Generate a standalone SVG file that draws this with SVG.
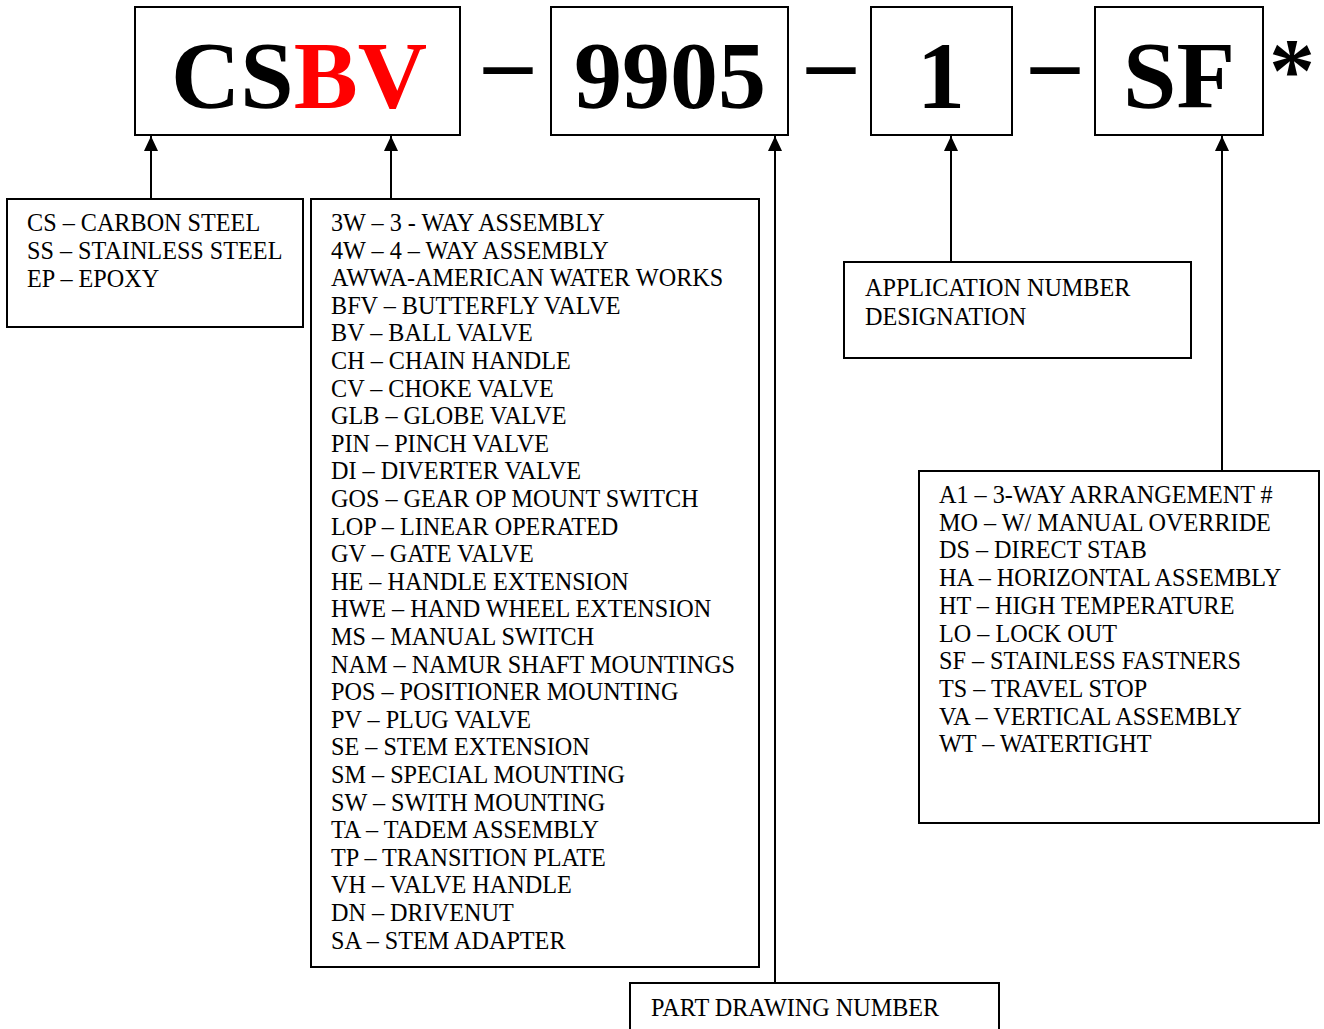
<svg xmlns="http://www.w3.org/2000/svg" width="1324" height="1029" viewBox="0 0 1324 1029">
<defs>
<style>
.box{fill:#fff;stroke:#000;stroke-width:2}
.big{font-family:"Liberation Serif","Times New Roman",serif;font-weight:bold;font-size:96px;fill:#000}
.t{font-family:"Liberation Serif","Times New Roman",serif;font-size:24.2px;fill:#000}
.ln{stroke:#000;stroke-width:2;fill:none}
</style>
<marker id="ah" viewBox="0 0 15 14" refX="15" refY="7" markerWidth="15" markerHeight="14" markerUnits="userSpaceOnUse" orient="auto">
<path d="M0,0 L15,7 L0,14 Z" fill="#000"/>
</marker>
</defs>
<rect width="1324" height="1029" fill="#fff"/>

<g id="code-csbv">
<rect class="box" x="135" y="7" width="325" height="128"/>
<text class="big" x="171" y="108">CS<tspan fill="#ff0000">BV</tspan></text>
</g>
<text class="big" x="484" y="93">–</text>
<g id="code-9905">
<rect class="box" x="551" y="7" width="237" height="128"/>
<text class="big" x="574" y="108">9905</text>
</g>
<text class="big" x="807" y="93">–</text>
<g id="code-1">
<rect class="box" x="871" y="7" width="141" height="128"/>
<text class="big" x="917" y="108">1</text>
</g>
<text class="big" x="1031" y="93">–</text>
<g id="code-sf">
<rect class="box" x="1095" y="7" width="168" height="128"/>
<text class="big" x="1123" y="108">SF</text>
</g>
<text class="big" x="1269" y="101" style="font-size:92px">*</text>

<g id="connectors">
<path class="ln" d="M151,199 V136" marker-end="url(#ah)"/>
<path class="ln" d="M391,199 V136" marker-end="url(#ah)"/>
<path class="ln" d="M775,983 V136" marker-end="url(#ah)"/>
<path class="ln" d="M951,262 V136" marker-end="url(#ah)"/>
<path class="ln" d="M1222,471 V136" marker-end="url(#ah)"/>
</g>

<g id="material">
<rect class="box" x="7" y="199" width="296" height="128"/>
<text class="t" x="27" y="231">CS – CARBON STEEL</text>
<text class="t" x="27" y="259">SS – STAINLESS STEEL</text>
<text class="t" x="27" y="287">EP – EPOXY</text>
</g>

<g id="valve-types">
<rect class="box" x="311" y="199" width="448" height="768"/>
<text class="t" x="331" y="231">3W – 3 - WAY ASSEMBLY</text>
<text class="t" x="331" y="258.6">4W – 4 – WAY ASSEMBLY</text>
<text class="t" x="331" y="286.2">AWWA-AMERICAN WATER WORKS</text>
<text class="t" x="331" y="313.8">BFV – BUTTERFLY VALVE</text>
<text class="t" x="331" y="341.4">BV – BALL VALVE</text>
<text class="t" x="331" y="369">CH – CHAIN HANDLE</text>
<text class="t" x="331" y="396.6">CV – CHOKE VALVE</text>
<text class="t" x="331" y="424.2">GLB – GLOBE VALVE</text>
<text class="t" x="331" y="451.8">PIN – PINCH VALVE</text>
<text class="t" x="331" y="479.4">DI – DIVERTER VALVE</text>
<text class="t" x="331" y="507">GOS – GEAR OP MOUNT SWITCH</text>
<text class="t" x="331" y="534.6">LOP – LINEAR OPERATED</text>
<text class="t" x="331" y="562.2">GV – GATE VALVE</text>
<text class="t" x="331" y="589.8">HE – HANDLE EXTENSION</text>
<text class="t" x="331" y="617.4">HWE – HAND WHEEL EXTENSION</text>
<text class="t" x="331" y="645">MS – MANUAL SWITCH</text>
<text class="t" x="331" y="672.6">NAM – NAMUR SHAFT MOUNTINGS</text>
<text class="t" x="331" y="700.2">POS – POSITIONER MOUNTING</text>
<text class="t" x="331" y="727.8">PV – PLUG VALVE</text>
<text class="t" x="331" y="755.4">SE – STEM EXTENSION</text>
<text class="t" x="331" y="783">SM – SPECIAL MOUNTING</text>
<text class="t" x="331" y="810.6">SW – SWITH MOUNTING</text>
<text class="t" x="331" y="838.2">TA – TADEM ASSEMBLY</text>
<text class="t" x="331" y="865.8">TP – TRANSITION PLATE</text>
<text class="t" x="331" y="893.4">VH – VALVE HANDLE</text>
<text class="t" x="331" y="921">DN – DRIVENUT</text>
<text class="t" x="331" y="948.6">SA – STEM ADAPTER</text>
</g>

<g id="application">
<rect class="box" x="844" y="262" width="347" height="96"/>
<text class="t" x="865" y="296">APPLICATION NUMBER</text>
<text class="t" x="865" y="325">DESIGNATION</text>
</g>

<g id="options">
<rect class="box" x="919" y="471" width="400" height="352"/>
<text class="t" x="939" y="503">A1 – 3-WAY ARRANGEMENT #</text>
<text class="t" x="939" y="530.7">MO – W/ MANUAL OVERRIDE</text>
<text class="t" x="939" y="558.4">DS – DIRECT STAB</text>
<text class="t" x="939" y="586.1">HA – HORIZONTAL ASSEMBLY</text>
<text class="t" x="939" y="613.8">HT – HIGH TEMPERATURE</text>
<text class="t" x="939" y="641.5">LO – LOCK OUT</text>
<text class="t" x="939" y="669.2">SF – STAINLESS FASTNERS</text>
<text class="t" x="939" y="696.9">TS – TRAVEL STOP</text>
<text class="t" x="939" y="724.6">VA – VERTICAL ASSEMBLY</text>
<text class="t" x="939" y="752.3">WT – WATERTIGHT</text>
</g>

<g id="part-drawing">
<rect class="box" x="630" y="983" width="369" height="60"/>
<text class="t" x="651" y="1016">PART DRAWING NUMBER</text>
</g>
</svg>
